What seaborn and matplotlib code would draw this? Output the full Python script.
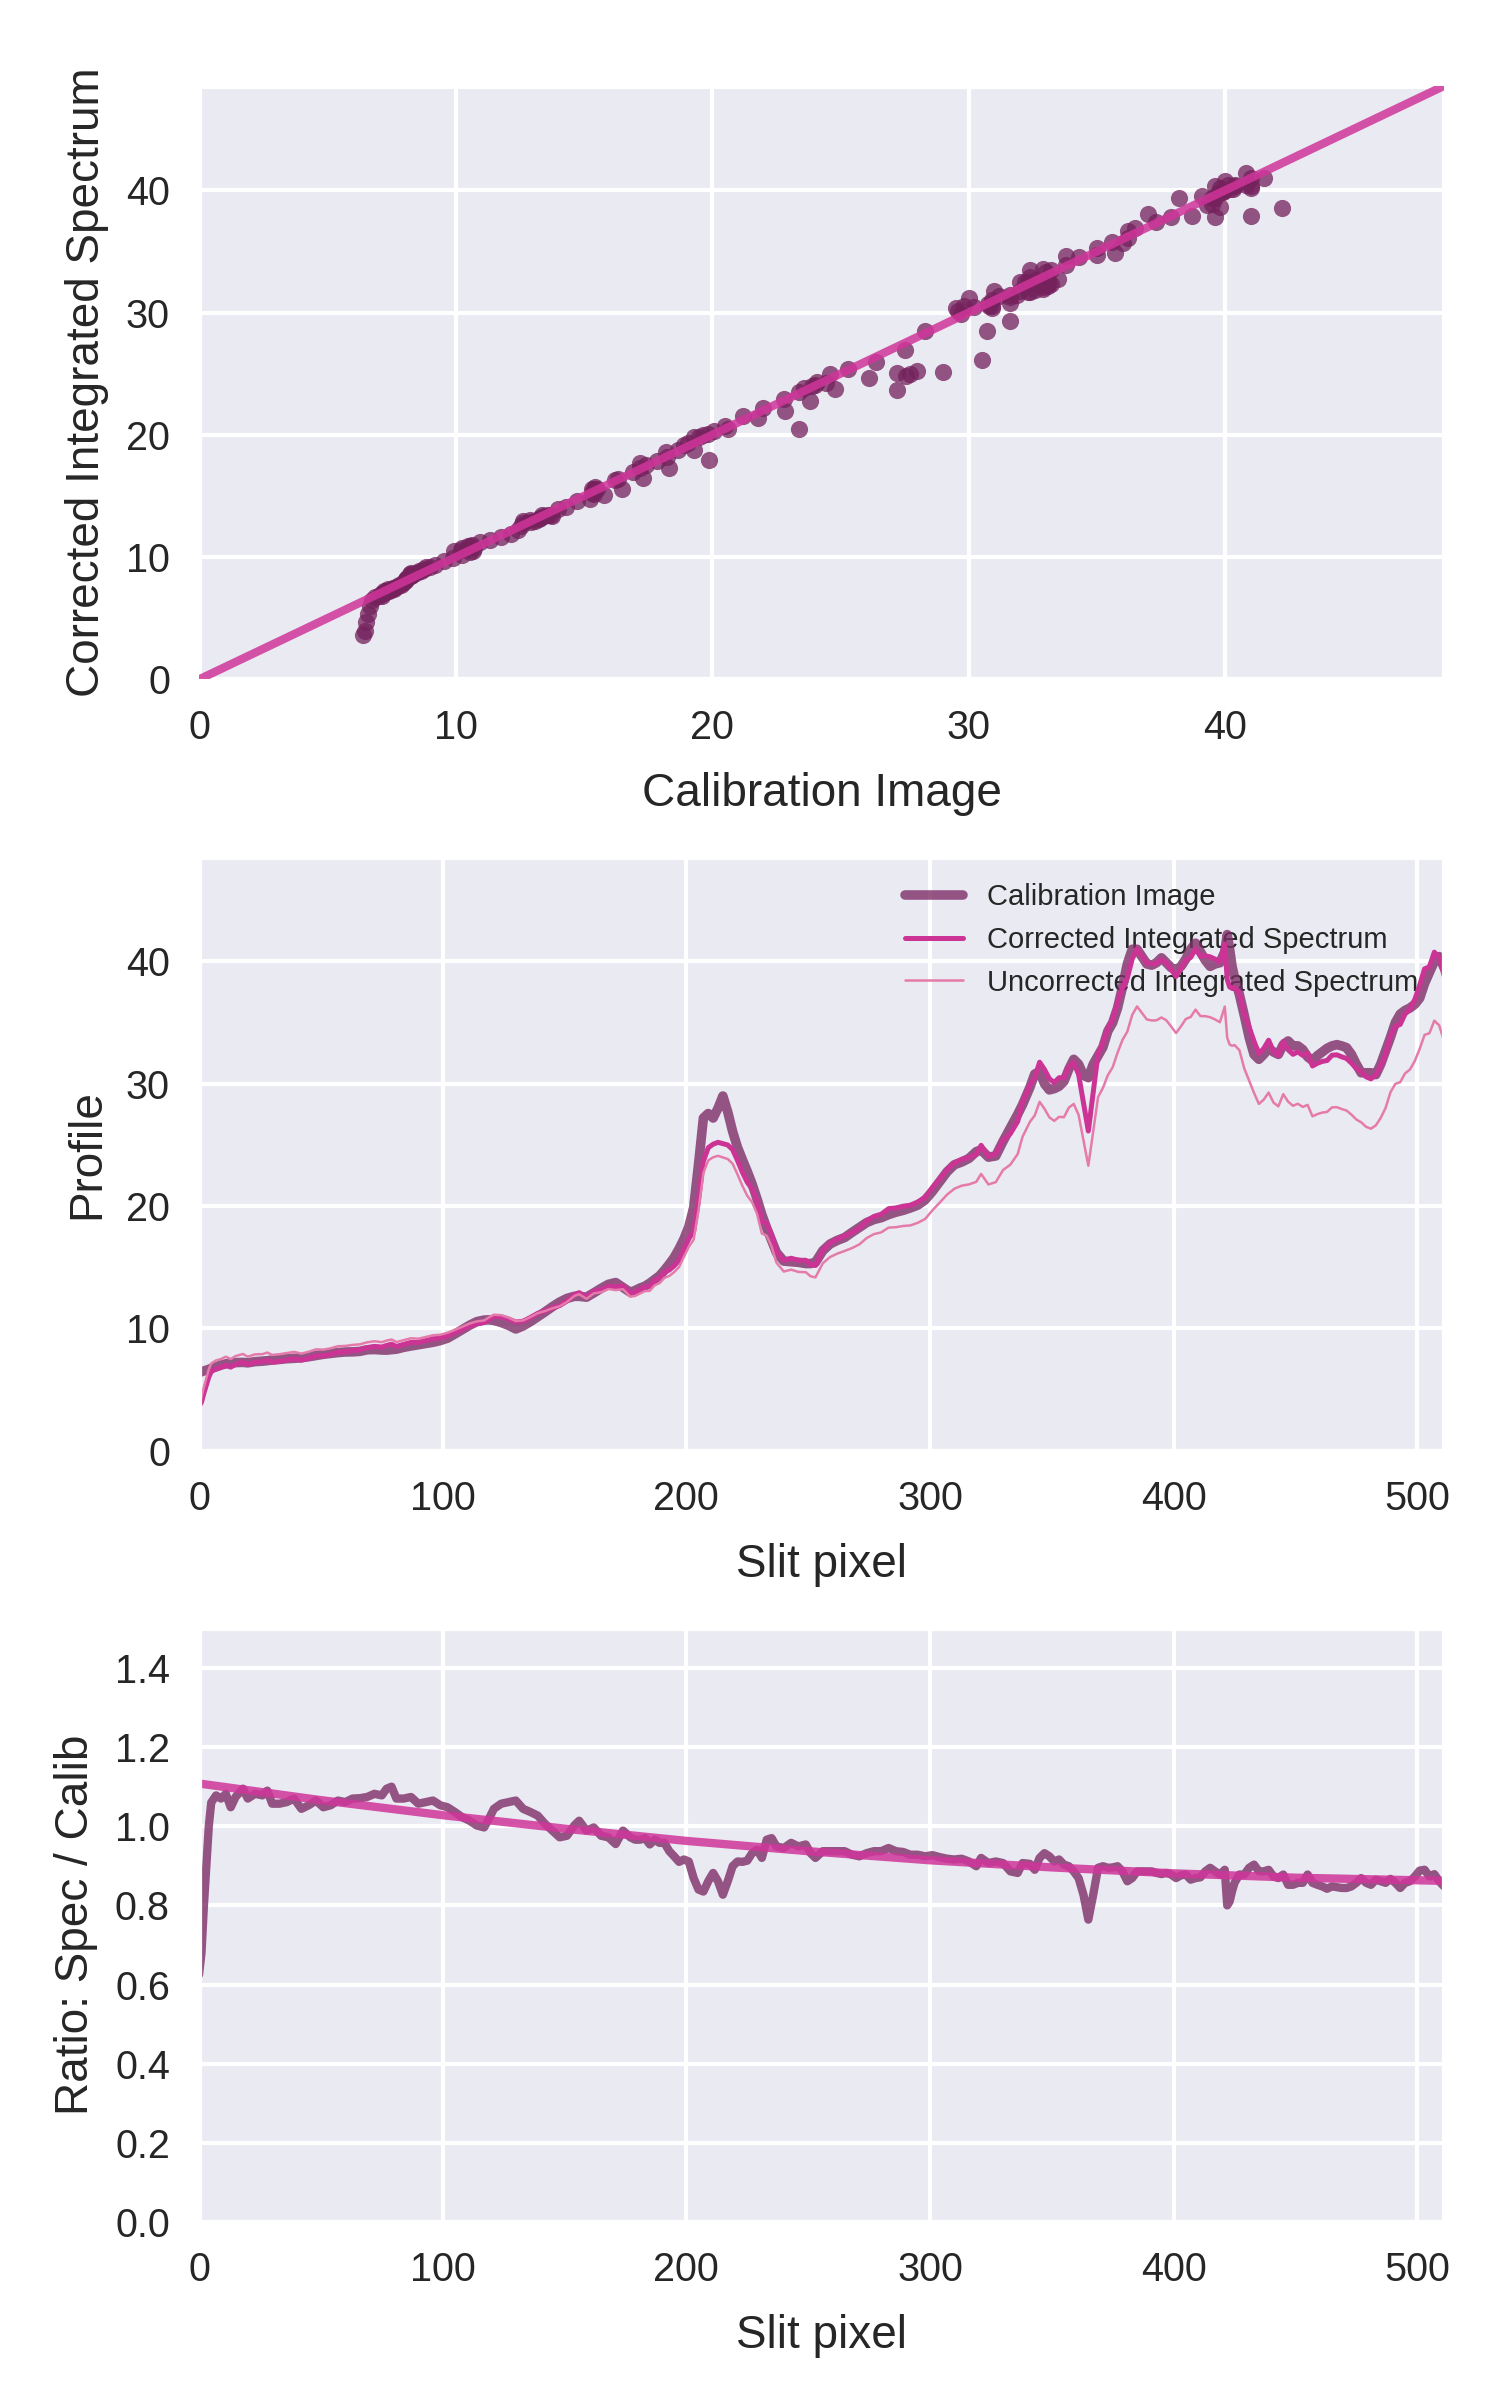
import numpy as np
import matplotlib
matplotlib.use("Agg")
import matplotlib.pyplot as plt
import seaborn as sns

# ---------------- data ----------------
slit_px = [
    0, 1, 2, 3, 4, 5, 7, 9, 11, 13, 15, 18, 20, 23, 26, 28, 30, 33, 36, 39,
    42, 45, 48, 51, 54, 57, 60, 63, 66, 69, 72, 75, 77, 79, 81, 84, 87, 90, 93, 96,
    99, 102, 105, 108, 111, 114, 117, 119, 121, 124, 127, 130, 133, 136, 139, 142, 145, 148, 151, 154,
    156, 159, 162, 165, 168, 171, 174, 177,
    179, 181, 183, 185, 187, 189, 191, 193, 195, 197, 199, 201, 203, 205, 207, 209, 211, 213, 215, 217,
    219, 221, 223, 225, 227, 229, 231, 233, 235, 237,
    240, 243, 246, 249, 251, 253, 256, 259, 262, 265, 268, 271, 274, 277, 280, 283, 286, 289, 292, 295,
    298, 301, 304, 307, 310, 313, 316, 319,
    321, 324, 327, 330, 333, 336, 338, 341,
    343, 345, 347, 349, 351, 353, 355, 357, 359, 361, 363, 365, 367, 369, 371, 373, 375, 377, 379, 381,
    383, 385, 387, 389, 391, 393, 395, 397, 399, 401, 403, 405, 407, 409, 411, 413, 415, 417, 419, 421,
    422, 423, 424, 425,
    427, 429, 431, 433, 435, 437, 439, 441, 443, 445, 447, 449, 451, 453, 455, 457, 459, 461, 463, 465,
    467, 469, 471, 473, 475, 477, 479, 481, 483, 485, 487, 489, 491, 493, 495, 497, 499, 501, 503, 505,
    507, 509, 511,
]

calibration = [
    6.40, 6.45, 6.52, 6.58, 6.65, 6.73, 6.85, 7.00, 7.10, 7.15, 7.20, 7.22, 7.18, 7.28, 7.32, 7.36, 7.41, 7.46, 7.52, 7.55,
    7.60, 7.68, 7.78, 7.88, 7.95, 8.02, 8.07, 8.08, 8.12, 8.25, 8.27, 8.23, 8.22, 8.26, 8.30, 8.45, 8.56, 8.66, 8.76, 8.86,
    9.00, 9.20, 9.54, 9.90, 10.25, 10.55, 10.68, 10.70, 10.65, 10.48, 10.25, 9.95, 10.20, 10.55, 10.95, 11.35, 11.77, 12.15, 12.45, 12.62,
    12.62, 12.55, 12.90, 13.27, 13.60, 13.75, 13.35, 12.95,
    13.10, 13.30, 13.45, 13.70, 14.00, 14.30, 14.75, 15.25, 15.80, 16.50, 17.30, 18.30, 19.86, 23.40, 27.20, 27.57, 27.20, 28.00, 29.00, 27.70,
    26.10, 24.80, 23.80, 22.84, 21.80, 20.60, 19.30, 18.20, 17.20, 16.20,
    15.50, 15.45, 15.40, 15.30, 15.30, 15.40, 16.35, 16.90, 17.20, 17.43, 17.85, 18.25, 18.65, 18.90, 19.05, 19.30, 19.50, 19.65, 19.85, 20.08,
    20.50, 21.20, 22.00, 22.80, 23.38, 23.60, 23.90, 24.45,
    24.60, 24.00, 24.10, 25.30, 26.40, 27.50, 28.30, 29.70,
    30.8, 31.0, 30.0, 29.5, 29.6, 29.8, 30.2, 31.2, 32.0, 31.6, 30.7, 30.5, 31.6, 32.3, 33.0, 34.3, 35.0, 36.2, 37.9, 39.8,
    41.0, 41.0, 40.4, 39.8, 39.7, 39.9, 40.3, 39.9, 39.5, 39.3, 39.6, 40.2, 41.0, 41.5, 40.8, 40.1, 39.6, 39.8, 39.9, 40.8,
    42.2, 41.0, 39.6, 38.7,
    37.3, 35.6, 33.8, 32.4, 32.0, 32.4, 32.9, 32.6, 32.4, 33.2, 33.5, 33.1, 33.1, 32.8, 32.2, 31.9, 32.3, 32.6, 32.9, 33.1,
    33.2, 33.1, 32.95, 32.4, 31.6, 30.9, 30.9, 30.9, 30.75, 31.6, 32.7, 33.8, 35.0, 35.7, 36.0, 36.2, 36.5, 37.0, 38.2, 39.1,
    40.0, 40.4, 39.5,
]

ratio = [
    0.625, 0.68, 0.80, 0.90, 1.00, 1.06, 1.078, 1.07, 1.082, 1.048, 1.074, 1.095, 1.07, 1.082, 1.078, 1.09, 1.057, 1.057, 1.061, 1.07,
    1.044, 1.053, 1.065, 1.048, 1.053, 1.065, 1.061, 1.07, 1.071, 1.074, 1.082, 1.078, 1.095, 1.10, 1.07, 1.07, 1.074, 1.057, 1.061, 1.065,
    1.053, 1.048, 1.036, 1.023, 1.014, 1.002, 0.997, 1.019, 1.044, 1.057, 1.061, 1.065, 1.044, 1.036, 1.027, 1.006, 0.989, 0.972, 0.976, 1.002,
    1.014, 0.989, 0.997, 0.976, 0.972, 0.955, 0.989, 0.972,
    0.966, 0.966, 0.97, 0.954, 0.966, 0.958, 0.958, 0.937, 0.924, 0.91, 0.916, 0.911, 0.869, 0.84, 0.835, 0.861, 0.882, 0.861, 0.827, 0.861,
    0.899, 0.911, 0.91, 0.913, 0.932, 0.941, 0.92, 0.966, 0.97, 0.949,
    0.945, 0.958, 0.949, 0.954, 0.932, 0.92, 0.937, 0.937, 0.937, 0.937, 0.928, 0.924, 0.932, 0.937, 0.937, 0.945, 0.937, 0.935, 0.928, 0.928,
    0.924, 0.927, 0.922, 0.918, 0.916, 0.918, 0.911, 0.899,
    0.92, 0.907, 0.911, 0.907, 0.886, 0.882, 0.907, 0.905,
    0.89, 0.92, 0.932, 0.924, 0.911, 0.916, 0.903, 0.899, 0.886, 0.869, 0.827, 0.764, 0.827, 0.895, 0.899, 0.895, 0.896, 0.899, 0.886, 0.861,
    0.869, 0.886, 0.886, 0.886, 0.886, 0.882, 0.879, 0.882, 0.878, 0.869, 0.876, 0.878, 0.865, 0.869, 0.871, 0.886, 0.895, 0.886, 0.878, 0.89,
    0.80, 0.81, 0.836, 0.857,
    0.878, 0.878, 0.895, 0.903, 0.886, 0.886, 0.89, 0.873, 0.869, 0.878, 0.852, 0.852, 0.857, 0.857, 0.878, 0.857, 0.852, 0.848, 0.842, 0.848,
    0.846, 0.844, 0.844, 0.848, 0.857, 0.869, 0.857, 0.852, 0.865, 0.861, 0.857, 0.867, 0.857, 0.844, 0.857, 0.861, 0.873, 0.888, 0.89, 0.873,
    0.879, 0.861, 0.848,
]

# smooth fit of the ratio, read at a few pixels
fit_px = [0, 50, 100, 150, 200, 250, 300, 350, 400, 450, 511]
fit_val = [1.108, 1.066, 1.028, 0.994, 0.963, 0.937, 0.914, 0.896, 0.881, 0.870, 0.862]

x_ticks_top = [0, 10, 20, 30, 40]
y_ticks_top = [0, 10, 20, 30, 40]
x_ticks_slit = [0, 100, 200, 300, 400, 500]
y_ticks_ratio = [0.0, 0.2, 0.4, 0.6, 0.8, 1.0, 1.2, 1.4]

# ---------------- derived series ----------------
px = np.array(slit_px, dtype=float)
calib = np.array(calibration)
rat = np.array(ratio)
uncorr = rat * calib
corr = uncorr / np.interp(px, fit_px, fit_val)
lim = 1.15 * calib.max()

# ---------------- style ----------------
sns.set_theme(style="darkgrid")
plt.rcParams['font.family'] = ['Liberation Sans', 'DejaVu Sans']
plt.rcParams.update({
    "axes.facecolor": "#EAEAF2",
    "grid.color": "white",
    "grid.linewidth": 1.0,
    "axes.labelsize": 11,
    "xtick.labelsize": 9.5,
    "ytick.labelsize": 9.5,
    "xtick.major.size": 0,
    "ytick.major.size": 0,
    "xtick.major.pad": 7,
    "ytick.major.pad": 7,
    "axes.labelcolor": "#262626",
    "xtick.color": "#262626",
    "ytick.color": "#262626",
})

CALIB = "#7D2E68"
CORR = "#CB3494"
FIT = "#D0359A"
UNCORR = "#E57BAA"
DOT = "#74215C"

fig, axes = plt.subplots(3, 1, figsize=(5, 8), dpi=300)
plt.subplots_adjust(left=0.1327, right=0.9627, top=0.9642, bottom=0.0742, hspace=0.2995)

# ---- top: scatter ----
ax1 = axes[0]
sns.scatterplot(x=calib, y=corr, ax=ax1, color=DOT, s=17, linewidth=0, alpha=0.75, zorder=2)
sns.lineplot(x=[0, lim], y=[0, lim], ax=ax1, color=FIT, lw=2.0, alpha=0.85, zorder=3)
ax1.set_xlim(0, lim)
ax1.set_ylim(0, lim)
ax1.set_xticks(x_ticks_top)
ax1.set_yticks(y_ticks_top)
ax1.set_xlabel("Calibration Image", labelpad=6)
ax1.set_ylabel("Corrected Integrated Spectrum")

# ---- middle: profiles ----
ax2 = axes[1]
sns.lineplot(x=px, y=calib, ax=ax2, color=CALIB, lw=2.3, alpha=0.8, label="Calibration Image")
sns.lineplot(x=px, y=corr, ax=ax2, color=CORR, lw=1.2, label="Corrected Integrated Spectrum")
sns.lineplot(x=px, y=uncorr, ax=ax2, color=UNCORR, lw=0.6, label="Uncorrected Integrated Spectrum")
ax2.set_xlim(0, 511)
ax2.set_ylim(0, lim)
ax2.set_xticks(x_ticks_slit)
ax2.set_yticks(y_ticks_top)
ax2.set_xlabel("Slit pixel", labelpad=6)
ax2.set_ylabel("Profile")
leg = ax2.legend(loc="upper right", frameon=False, fontsize=7)
leg.set_zorder(1.5)

# ---- bottom: ratio ----
ax3 = axes[2]
sns.lineplot(x=px, y=rat, ax=ax3, color=CALIB, lw=2.0, alpha=0.8)
sns.lineplot(x=fit_px, y=fit_val, ax=ax3, color=FIT, lw=2.0, alpha=0.85)
ax3.set_xlim(0, 511)
ax3.set_ylim(0, 1.5)
ax3.set_xticks(x_ticks_slit)
ax3.set_yticks(y_ticks_ratio)
ax3.set_yticklabels([f"{v:.1f}" for v in y_ticks_ratio])
ax3.set_xlabel("Slit pixel", labelpad=6)
ax3.set_ylabel("Ratio: Spec / Calib")

fig.savefig("out.png", dpi=300)
